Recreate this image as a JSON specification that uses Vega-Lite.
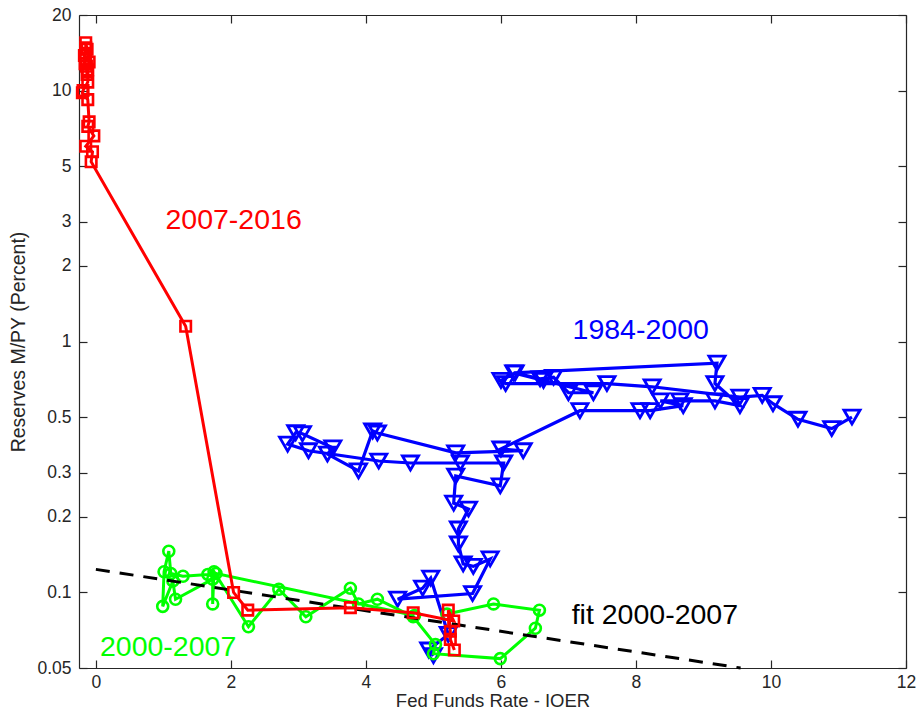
{
  "$schema": "https://vega.github.io/schema/vega-lite/v6.json",
  "width": 827,
  "height": 653,
  "autosize": "none",
  "padding": {"left": 79, "top": 15, "right": 11, "bottom": 45},
  "background": "white",
  "config": {"view": {"stroke": null}, "font": "Liberation Sans"},
  "datasets": {
    "pts": [
      {"s": "1984-2000", "t": 1, "x": 11.2, "y": 0.5},
      {"s": "1984-2000", "t": 2, "x": 10.9, "y": 0.45},
      {"s": "1984-2000", "t": 3, "x": 10.4, "y": 0.49},
      {"s": "1984-2000", "t": 4, "x": 10.03, "y": 0.565},
      {"s": "1984-2000", "t": 5, "x": 9.87, "y": 0.61},
      {"s": "1984-2000", "t": 6, "x": 9.54, "y": 0.6},
      {"s": "1984-2000", "t": 7, "x": 8.24, "y": 0.66},
      {"s": "1984-2000", "t": 8, "x": 7.57, "y": 0.68},
      {"s": "1984-2000", "t": 9, "x": 6.07, "y": 0.68},
      {"s": "1984-2000", "t": 10, "x": 6.0, "y": 0.7},
      {"s": "1984-2000", "t": 11, "x": 6.21, "y": 0.75},
      {"s": "1984-2000", "t": 12, "x": 6.58, "y": 0.71},
      {"s": "1984-2000", "t": 13, "x": 6.78, "y": 0.72},
      {"s": "1984-2000", "t": 14, "x": 7.0, "y": 0.625},
      {"s": "1984-2000", "t": 15, "x": 7.37, "y": 0.625},
      {"s": "1984-2000", "t": 16, "x": 6.63, "y": 0.7},
      {"s": "1984-2000", "t": 17, "x": 6.19, "y": 0.75},
      {"s": "1984-2000", "t": 18, "x": 9.2, "y": 0.82},
      {"s": "1984-2000", "t": 19, "x": 9.17, "y": 0.68},
      {"s": "1984-2000", "t": 20, "x": 9.54, "y": 0.555},
      {"s": "1984-2000", "t": 21, "x": 9.17, "y": 0.58},
      {"s": "1984-2000", "t": 22, "x": 8.65, "y": 0.58},
      {"s": "1984-2000", "t": 23, "x": 8.36, "y": 0.58},
      {"s": "1984-2000", "t": 24, "x": 8.7, "y": 0.555},
      {"s": "1984-2000", "t": 25, "x": 8.21, "y": 0.53},
      {"s": "1984-2000", "t": 26, "x": 8.06, "y": 0.53},
      {"s": "1984-2000", "t": 27, "x": 7.17, "y": 0.53},
      {"s": "1984-2000", "t": 28, "x": 6.0, "y": 0.373},
      {"s": "1984-2000", "t": 29, "x": 6.33, "y": 0.367},
      {"s": "1984-2000", "t": 30, "x": 5.33, "y": 0.36},
      {"s": "1984-2000", "t": 31, "x": 4.17, "y": 0.432},
      {"s": "1984-2000", "t": 32, "x": 4.1, "y": 0.44},
      {"s": "1984-2000", "t": 33, "x": 3.89, "y": 0.305},
      {"s": "1984-2000", "t": 34, "x": 3.43, "y": 0.356},
      {"s": "1984-2000", "t": 35, "x": 3.51, "y": 0.377},
      {"s": "1984-2000", "t": 36, "x": 3.06, "y": 0.429},
      {"s": "1984-2000", "t": 37, "x": 2.96, "y": 0.433},
      {"s": "1984-2000", "t": 38, "x": 2.84, "y": 0.39},
      {"s": "1984-2000", "t": 39, "x": 3.15, "y": 0.367},
      {"s": "1984-2000", "t": 40, "x": 4.19, "y": 0.334},
      {"s": "1984-2000", "t": 41, "x": 4.66, "y": 0.328},
      {"s": "1984-2000", "t": 42, "x": 5.4, "y": 0.328},
      {"s": "1984-2000", "t": 43, "x": 6.04, "y": 0.328},
      {"s": "1984-2000", "t": 44, "x": 5.99, "y": 0.266},
      {"s": "1984-2000", "t": 45, "x": 5.33, "y": 0.291},
      {"s": "1984-2000", "t": 46, "x": 5.3, "y": 0.227},
      {"s": "1984-2000", "t": 47, "x": 5.52, "y": 0.215},
      {"s": "1984-2000", "t": 48, "x": 5.37, "y": 0.179},
      {"s": "1984-2000", "t": 49, "x": 5.37, "y": 0.156},
      {"s": "1984-2000", "t": 50, "x": 5.44, "y": 0.13},
      {"s": "1984-2000", "t": 51, "x": 5.59, "y": 0.127},
      {"s": "1984-2000", "t": 52, "x": 5.84, "y": 0.136},
      {"s": "1984-2000", "t": 53, "x": 5.58, "y": 0.099},
      {"s": "1984-2000", "t": 54, "x": 4.47, "y": 0.094},
      {"s": "1984-2000", "t": 55, "x": 4.84, "y": 0.104},
      {"s": "1984-2000", "t": 56, "x": 4.96, "y": 0.114},
      {"s": "1984-2000", "t": 57, "x": 5.22, "y": 0.068},
      {"s": "1984-2000", "t": 58, "x": 4.93, "y": 0.059},
      {"s": "1984-2000", "t": 59, "x": 5.0, "y": 0.056},
      {"s": "2000-2007", "t": 1, "x": 4.72, "y": 0.081},
      {"s": "2000-2007", "t": 2, "x": 1.78, "y": 0.119},
      {"s": "2000-2007", "t": 3, "x": 1.66, "y": 0.118},
      {"s": "2000-2007", "t": 4, "x": 1.29, "y": 0.116},
      {"s": "2000-2007", "t": 5, "x": 1.11, "y": 0.119},
      {"s": "2000-2007", "t": 6, "x": 1.08, "y": 0.146},
      {"s": "2000-2007", "t": 7, "x": 1.01, "y": 0.121},
      {"s": "2000-2007", "t": 8, "x": 0.99, "y": 0.088},
      {"s": "2000-2007", "t": 9, "x": 1.14, "y": 0.111},
      {"s": "2000-2007", "t": 10, "x": 1.18, "y": 0.094},
      {"s": "2000-2007", "t": 11, "x": 1.73, "y": 0.113},
      {"s": "2000-2007", "t": 12, "x": 1.73, "y": 0.09},
      {"s": "2000-2007", "t": 13, "x": 1.75, "y": 0.121},
      {"s": "2000-2007", "t": 14, "x": 2.26, "y": 0.073},
      {"s": "2000-2007", "t": 15, "x": 2.71, "y": 0.103},
      {"s": "2000-2007", "t": 16, "x": 3.11, "y": 0.08},
      {"s": "2000-2007", "t": 17, "x": 3.77, "y": 0.104},
      {"s": "2000-2007", "t": 18, "x": 3.89, "y": 0.09},
      {"s": "2000-2007", "t": 19, "x": 4.17, "y": 0.094},
      {"s": "2000-2007", "t": 20, "x": 4.7, "y": 0.08},
      {"s": "2000-2007", "t": 21, "x": 5.03, "y": 0.062},
      {"s": "2000-2007", "t": 22, "x": 5.0, "y": 0.057},
      {"s": "2000-2007", "t": 23, "x": 5.99, "y": 0.0545},
      {"s": "2000-2007", "t": 24, "x": 6.51, "y": 0.072},
      {"s": "2000-2007", "t": 25, "x": 6.57, "y": 0.085},
      {"s": "2000-2007", "t": 26, "x": 5.89, "y": 0.09},
      {"s": "2000-2007", "t": 27, "x": 5.2, "y": 0.082},
      {"s": "2007-2016", "t": 1, "x": 5.31, "y": 0.059},
      {"s": "2007-2016", "t": 2, "x": 5.25, "y": 0.065},
      {"s": "2007-2016", "t": 3, "x": 5.25, "y": 0.07},
      {"s": "2007-2016", "t": 4, "x": 5.22, "y": 0.085},
      {"s": "2007-2016", "t": 5, "x": 5.3, "y": 0.077},
      {"s": "2007-2016", "t": 6, "x": 4.7, "y": 0.083},
      {"s": "2007-2016", "t": 7, "x": 3.77, "y": 0.087},
      {"s": "2007-2016", "t": 8, "x": 2.25, "y": 0.085},
      {"s": "2007-2016", "t": 9, "x": 2.04, "y": 0.1},
      {"s": "2007-2016", "t": 10, "x": 1.33, "y": 1.15},
      {"s": "2007-2016", "t": 11, "x": -0.07, "y": 5.2},
      {"s": "2007-2016", "t": 12, "x": -0.05, "y": 5.7},
      {"s": "2007-2016", "t": 13, "x": -0.15, "y": 6.0},
      {"s": "2007-2016", "t": 14, "x": -0.03, "y": 6.6},
      {"s": "2007-2016", "t": 15, "x": -0.12, "y": 7.2},
      {"s": "2007-2016", "t": 16, "x": -0.1, "y": 7.5},
      {"s": "2007-2016", "t": 17, "x": -0.12, "y": 9.2},
      {"s": "2007-2016", "t": 18, "x": -0.2, "y": 9.8},
      {"s": "2007-2016", "t": 19, "x": -0.19, "y": 10.0},
      {"s": "2007-2016", "t": 20, "x": -0.12, "y": 10.8},
      {"s": "2007-2016", "t": 21, "x": -0.12, "y": 12.1},
      {"s": "2007-2016", "t": 22, "x": -0.16, "y": 12.8},
      {"s": "2007-2016", "t": 23, "x": -0.15, "y": 13.3},
      {"s": "2007-2016", "t": 24, "x": -0.17, "y": 13.8},
      {"s": "2007-2016", "t": 25, "x": -0.15, "y": 14.8},
      {"s": "2007-2016", "t": 26, "x": -0.15, "y": 15.5},
      {"s": "2007-2016", "t": 27, "x": -0.13, "y": 14.6},
      {"s": "2007-2016", "t": 28, "x": -0.1, "y": 13.0},
      {"s": "2007-2016", "t": 29, "x": -0.14, "y": 12.5},
      {"s": "2007-2016", "t": 30, "x": -0.13, "y": 11.6}
    ],
    "fit": [
      {"x": 0, "y": 0.1236},
      {"x": 9.55, "y": 0.05}
    ],
    "labels": [
      {"label": "2007-2016", "x": 2.04, "y": 3.05, "c": "#ff0000"},
      {"label": "1984-2000", "x": 8.07, "y": 1.11, "c": "#0000ff"},
      {"label": "2000-2007", "x": 1.07, "y": 0.0607, "c": "#00ff00"},
      {"label": "fit 2000-2007", "x": 8.28, "y": 0.0813, "c": "#000000"}
    ]
  },
  "resolve": {"axis": {"x": "independent", "y": "independent"}},
  "layer": [
    {
      "data": {"name": "fit"},
      "mark": {"type": "line", "opacity": 0},
      "encoding": {
        "x": {"field": "x", "type": "quantitative",
          "scale": {"domain": [-0.25, 12], "nice": false, "zero": false},
          "axis": {"orient": "bottom", "values": [0, 2, 4, 6, 8, 10, 12], "grid": false,
            "tickSize": -8, "labelPadding": 13, "labelFontSize": 17.5, "labelColor": "#262626",
            "domainColor": "#262626", "tickColor": "#262626", "domainWidth": 1.2, "tickWidth": 1.2,
            "title": "Fed Funds Rate - IOER", "titleFontSize": 18.5, "titleFontWeight": "normal",
            "titleColor": "#262626", "titlePadding": 1, "labelFlush": false}},
        "y": {"field": "y", "type": "quantitative",
          "scale": {"type": "log", "domain": [0.05, 20], "nice": false},
          "axis": {"orient": "left", "values": [0.05, 0.1, 0.2, 0.3, 0.5, 1, 2, 3, 5, 10, 20], "format": "~g", "grid": false,
            "tickSize": -8, "labelPadding": 16, "labelFontSize": 17.5, "labelColor": "#262626",
            "domainColor": "#262626", "tickColor": "#262626", "domainWidth": 1.2, "tickWidth": 1.2,
            "title": "Reserves M/PY (Percent)", "titleFontSize": 19.5, "titleFontWeight": "normal",
            "titleColor": "#262626", "titlePadding": 8, "labelFlush": false}}
      }
    },
    {
      "data": {"name": "fit"},
      "mark": {"type": "line", "opacity": 0},
      "encoding": {
        "x": {"field": "x", "type": "quantitative",
          "axis": {"orient": "top", "values": [0, 2, 4, 6, 8, 10, 12], "grid": false, "labels": false, "title": null,
            "tickSize": -8, "domainColor": "#262626", "tickColor": "#262626", "domainWidth": 1.2, "tickWidth": 1.2}},
        "y": {"field": "y", "type": "quantitative",
          "axis": {"orient": "right", "values": [0.05, 0.1, 0.2, 0.3, 0.5, 1, 2, 3, 5, 10, 20], "grid": false, "labels": false, "title": null,
            "tickSize": -8, "domainColor": "#262626", "tickColor": "#262626", "domainWidth": 1.2, "tickWidth": 1.2}}
      }
    },
    {
      "data": {"name": "pts"},
      "transform": [{"filter": "datum.s === '1984-2000'"}],
      "mark": {"type": "line", "color": "#0000ff", "strokeWidth": 3.2},
      "encoding": {
        "x": {"field": "x", "type": "quantitative", "axis": null},
        "y": {"field": "y", "type": "quantitative", "axis": null},
        "order": {"field": "t"}
      }
    },
    {
      "data": {"name": "pts"},
      "transform": [{"filter": "datum.s === '1984-2000'"}],
      "mark": {"type": "point", "shape": "triangle-down", "filled": false, "color": "#0000ff", "strokeWidth": 2.8, "size": 260, "opacity": 1},
      "encoding": {
        "x": {"field": "x", "type": "quantitative", "axis": null},
        "y": {"field": "y", "type": "quantitative", "axis": null}
      }
    },
    {
      "data": {"name": "pts"},
      "transform": [{"filter": "datum.s === '2000-2007'"}],
      "mark": {"type": "line", "color": "#00ff00", "strokeWidth": 3},
      "encoding": {
        "x": {"field": "x", "type": "quantitative", "axis": null},
        "y": {"field": "y", "type": "quantitative", "axis": null},
        "order": {"field": "t"}
      }
    },
    {
      "data": {"name": "pts"},
      "transform": [{"filter": "datum.s === '2000-2007'"}],
      "mark": {"type": "point", "shape": "circle", "filled": false, "color": "#00ff00", "strokeWidth": 2.6, "size": 120, "opacity": 1},
      "encoding": {
        "x": {"field": "x", "type": "quantitative", "axis": null},
        "y": {"field": "y", "type": "quantitative", "axis": null}
      }
    },
    {
      "data": {"name": "fit"},
      "mark": {"type": "line", "color": "#000000", "strokeWidth": 3, "strokeDash": [14, 10]},
      "encoding": {
        "x": {"field": "x", "type": "quantitative", "axis": null},
        "y": {"field": "y", "type": "quantitative", "axis": null}
      }
    },
    {
      "data": {"name": "pts"},
      "transform": [{"filter": "datum.s === '2007-2016'"}],
      "mark": {"type": "line", "color": "#ff0000", "strokeWidth": 3},
      "encoding": {
        "x": {"field": "x", "type": "quantitative", "axis": null},
        "y": {"field": "y", "type": "quantitative", "axis": null},
        "order": {"field": "t"}
      }
    },
    {
      "data": {"name": "pts"},
      "transform": [{"filter": "datum.s === '2007-2016'"}],
      "mark": {"type": "point", "shape": "square", "filled": false, "color": "#ff0000", "strokeWidth": 2.6, "size": 110, "opacity": 1},
      "encoding": {
        "x": {"field": "x", "type": "quantitative", "axis": null},
        "y": {"field": "y", "type": "quantitative", "axis": null}
      }
    },
    {
      "data": {"name": "labels"},
      "mark": {"type": "text", "fontSize": 28.5, "align": "center", "baseline": "middle"},
      "encoding": {
        "x": {"field": "x", "type": "quantitative", "axis": null},
        "y": {"field": "y", "type": "quantitative", "axis": null},
        "text": {"field": "label"},
        "color": {"field": "c", "type": "nominal", "scale": null}
      }
    }
  ]
}
